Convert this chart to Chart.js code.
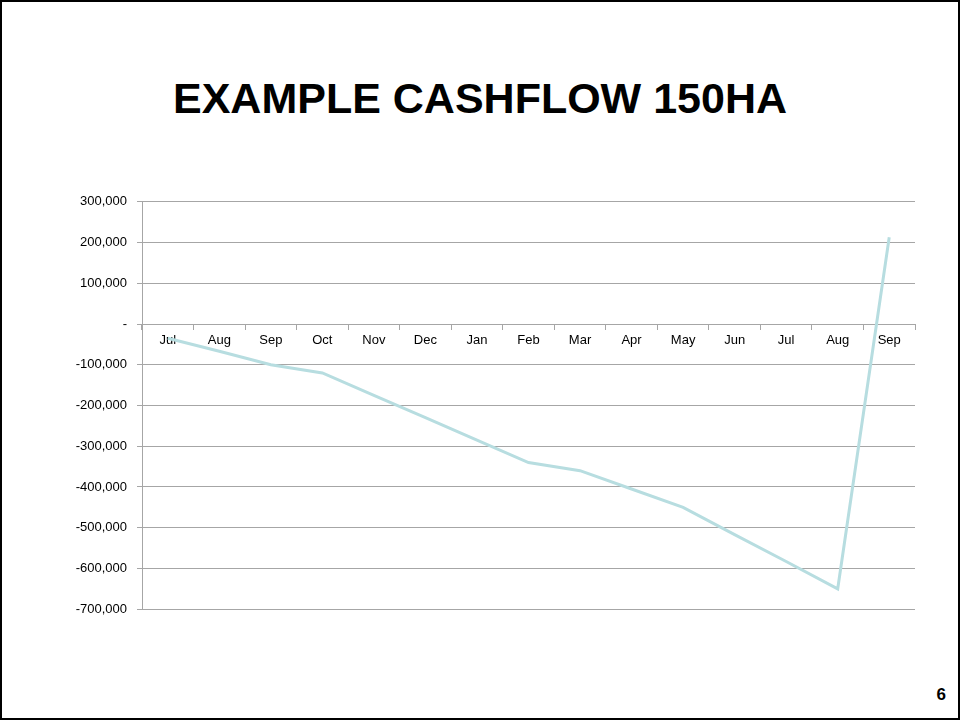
<!DOCTYPE html>
<html>
<head>
<meta charset="utf-8">
<script src="https://cdn.jsdelivr.net/npm/chart.js@4.4.1/dist/chart.umd.min.js"></script>
<style>
  body { margin: 0; background: #fff; }
  #slide {
    position: relative; width: 960px; height: 720px;
    border: 2px solid #000; box-sizing: border-box; overflow: hidden;
    font-family: "Liberation Sans", Arial, sans-serif;
  }
  #title {
    position: absolute; left: 0; width: 956px; top: 72px;
    text-align: center; font-weight: bold; font-size: 43px; color: #000;
  }
  #pageNum {
    position: absolute; right: 12px; top: 683px;
    font-weight: bold; font-size: 17px; color: #000;
  }
  #wrap { position: absolute; left: 36px; top: 182px; width: 900px; height: 443px; }
</style>
</head>
<body>
<div id="slide">
  <div id="title">EXAMPLE CASHFLOW 150HA</div>
  <div id="wrap"><canvas id="cashChart"></canvas></div>
  <div id="pageNum">6</div>
</div>
<script>
// date
const months = ["Jul", "Aug", "Sep", "Oct", "Nov", "Dec", "Jan", "Feb", "Mar", "Apr", "May", "Jun", "Jul", "Aug", "Sep"];
const cashflow = [-35000, -67000, -100000, -120000, -175000, -230000, -285000, -340000, -360000, -405000, -450000, -517000, -583000, -650000, 213000];
const yTicks = [300000, 200000, 100000, 0, -100000, -200000, -300000, -400000, -500000, -600000, -700000];

const gridGray = '#a6a6a6';

const ctx = document.getElementById("cashChart").getContext("2d");
const cashChart = new Chart(ctx, {
    type: 'line',
    data: {
        labels: months,
        datasets: [{
            label: 'Cashflow',
            data: cashflow,
            borderColor: '#b7dde0',
            borderWidth: 3,
            pointRadius: 0,
            fill: false,
            tension: 0
        }]
    },
    options: {
        responsive: true,
        maintainAspectRatio: false,
        animation: false,
        layout: { padding: { top: 13, right: 23, bottom: 11, left: 0 } },
        plugins: {
            legend: { display: false },
            tooltip: { enabled: false }
        },
        scales: {
            x: {
                position: { y: 0 },
                offset: true,
                grid: {
                    offset: true,
                    drawOnChartArea: false,
                    drawTicks: true,
                    tickLength: 5,
                    color: gridGray
                },
                border: { color: gridGray },
                ticks: {
                    color: '#000',
                    padding: 4,
                    maxRotation: 0,
                    autoSkip: false,
                    font: { family: 'Liberation Sans', size: 13 }
                }
            },
            y: {
                min: -700000,
                max: 300000,
                afterFit: function(scale) { scale.width = 104; },
                afterBuildTicks: function(scale) {
                    scale.ticks = yTicks.map(v => ({ value: v }));
                },
                grid: {
                    color: ctx => ctx.tick && ctx.tick.value === 0 ? 'rgba(0,0,0,0)' : gridGray,
                    tickColor: gridGray,
                    tickLength: 5
                },
                border: { color: gridGray },
                ticks: {
                    color: '#000',
                    padding: 10,
                    font: { family: 'Liberation Sans', size: 13 },
                    callback: v => v === 0 ? '-' : v.toLocaleString('en-US')
                }
            }
        }
    }
});
</script>
</body>
</html>
